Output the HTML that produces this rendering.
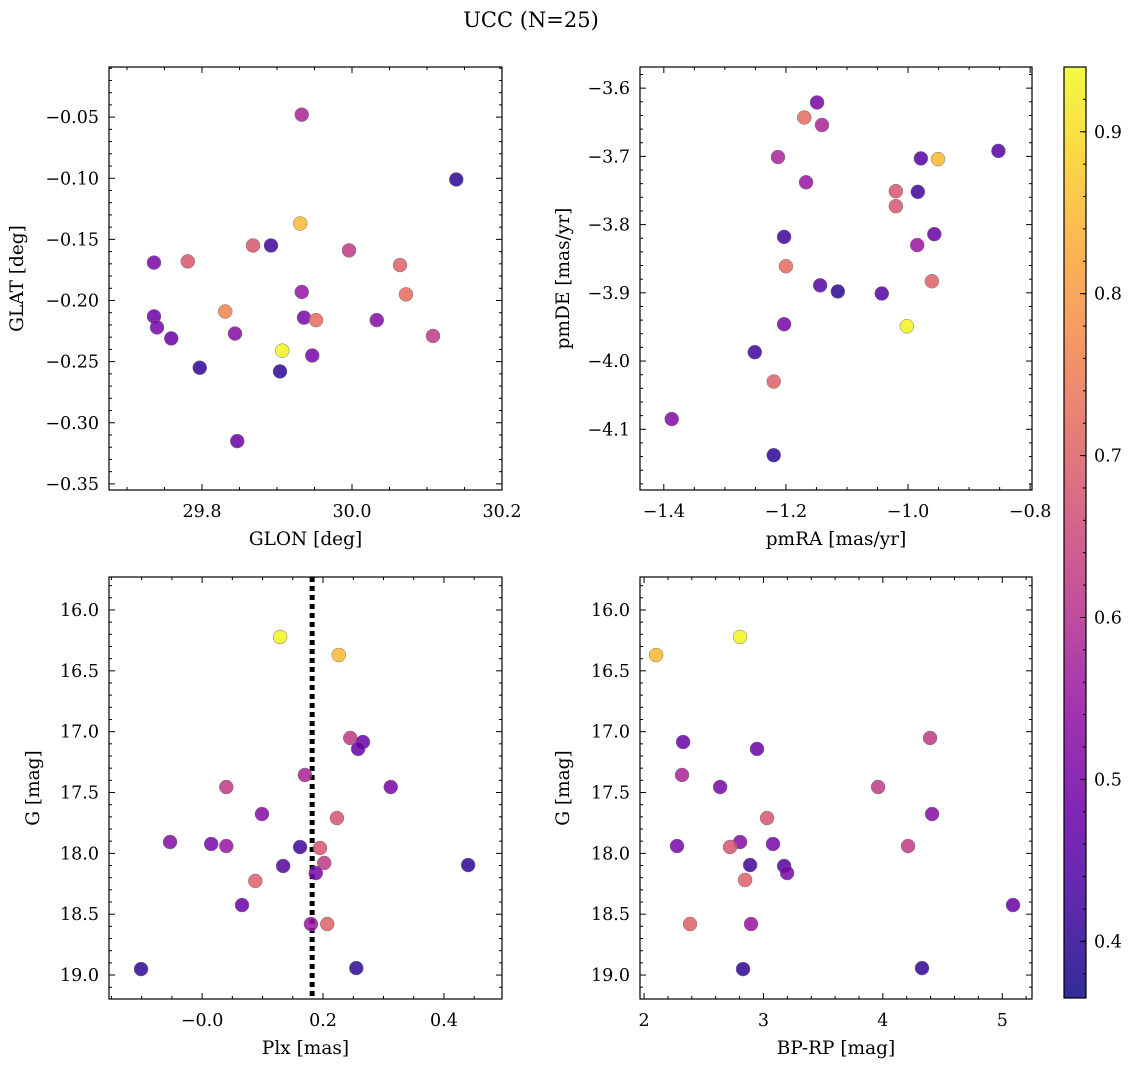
<!DOCTYPE html>
<html><head><meta charset="utf-8"><style>
html,body{margin:0;padding:0;background:#fff;}
svg{display:block;font-family:"DejaVu Serif","Liberation Serif",serif;}
</style></head><body>
<svg id="fig" width="1136" height="1067" viewBox="0 0 1136 1067">
<text x="531" y="27" font-size="21" text-anchor="middle">UCC (N=25)</text>
</svg>
<script>
// Panel 1 data: GLON vs GLAT
const glon1=[29.933,30.139,29.931,29.868,29.892,29.996,29.736,29.781,30.064,29.933,30.072,29.831,29.736,29.936,29.952,30.033,29.740,29.844,30.108,29.759,29.907,29.947,29.797,29.904,29.847];
const glat1=[-0.048,-0.101,-0.137,-0.155,-0.155,-0.159,-0.169,-0.168,-0.171,-0.193,-0.195,-0.209,-0.213,-0.214,-0.216,-0.216,-0.222,-0.227,-0.229,-0.231,-0.241,-0.245,-0.255,-0.258,-0.315];
const prob1=[0.58,0.40,0.85,0.68,0.42,0.62,0.50,0.68,0.70,0.55,0.72,0.76,0.48,0.50,0.72,0.52,0.50,0.52,0.62,0.48,0.93,0.50,0.40,0.40,0.48];
// Panel 2 data: pmRA vs pmDE
const pmra2=[-1.149,-1.170,-1.141,-1.213,-0.979,-0.951,-0.852,-1.167,-0.984,-1.020,-1.020,-0.957,-1.203,-0.985,-1.200,-0.961,-1.144,-1.115,-1.043,-1.002,-1.203,-1.251,-1.220,-1.387,-1.220];
const pmde2=[-3.621,-3.643,-3.654,-3.701,-3.703,-3.704,-3.692,-3.738,-3.752,-3.751,-3.773,-3.814,-3.818,-3.830,-3.861,-3.883,-3.889,-3.898,-3.901,-3.949,-3.946,-3.987,-4.030,-4.085,-4.138];
const prob2=[0.50,0.72,0.58,0.58,0.45,0.85,0.45,0.55,0.42,0.68,0.68,0.48,0.42,0.55,0.72,0.70,0.45,0.40,0.45,0.93,0.50,0.42,0.70,0.52,0.40];
// Panel 3 data: Plx vs G
const plx3=[0.129,0.226,0.245,0.266,0.258,0.170,0.040,0.312,0.099,0.223,-0.053,0.015,0.040,0.162,0.195,0.202,0.134,0.440,0.188,0.088,0.066,0.180,0.207,-0.101,0.255];
const g3=[16.222,16.370,17.052,17.085,17.142,17.356,17.455,17.455,17.677,17.710,17.907,17.923,17.940,17.948,17.956,18.079,18.104,18.096,18.162,18.227,18.425,18.581,18.581,18.951,18.943];
const prob3=[0.93,0.85,0.62,0.48,0.48,0.58,0.62,0.50,0.52,0.68,0.52,0.50,0.55,0.42,0.68,0.62,0.45,0.40,0.50,0.70,0.48,0.55,0.70,0.40,0.40];
const plxLine=[0.182];
// Panel 4 data: BP-RP vs G
const bprp4=[2.804,2.101,4.395,2.327,2.946,2.318,3.960,2.637,4.412,3.030,2.804,3.080,2.276,2.720,4.211,2.888,3.173,3.198,2.846,5.090,2.385,2.896,2.829,4.328];
const g4=[16.222,16.370,17.052,17.085,17.142,17.356,17.455,17.455,17.677,17.710,17.907,17.923,17.940,17.948,17.940,18.096,18.104,18.162,18.219,18.425,18.581,18.581,18.951,18.943];
const prob4=[0.93,0.85,0.62,0.48,0.48,0.58,0.62,0.50,0.52,0.68,0.52,0.50,0.50,0.68,0.62,0.42,0.45,0.50,0.70,0.48,0.70,0.55,0.40,0.40];
const cbTicks=[0.4,0.5,0.6,0.7,0.8,0.9];
const CMIN=0.365,CMAX=0.94;

const NS="http://www.w3.org/2000/svg";
const svg=document.getElementById('fig');
function mk(tag,attrs,parent){const e=document.createElementNS(NS,tag);for(const k in attrs)e.setAttribute(k,attrs[k]);(parent||svg).appendChild(e);return e;}
const stops=[[13,8,135],[65,4,157],[106,0,168],[143,13,164],[177,42,144],[204,71,120],[225,100,98],[242,132,75],[252,166,54],[252,206,37],[240,249,33]];
function plasma(t){t=Math.max(0,Math.min(1,t));const f=t*10,i=Math.min(9,Math.floor(f)),u=f-i;const a=stops[i],b=stops[i+1];return 'rgb('+a.map((v,k)=>Math.round(v+(b[k]-v)*u)).join(',')+')';}
function cmap(c){return plasma((c-CMIN)/(CMAX-CMIN));}
function fmt(v,d){let s=v.toFixed(d);if(s.startsWith('-'))s='\u2212'+s.slice(1);return s;}

function panel(cfg){
  const {x0,x1,y0,y1,xmin,xmax,ymin,ymax,inv}=cfg;
  const sx=v=>x0+(v-xmin)/(xmax-xmin)*(x1-x0);
  const sy=v=>inv? y0+(v-ymin)/(ymax-ymin)*(y1-y0) : y1-(v-ymin)/(ymax-ymin)*(y1-y0);
  const g=mk('g',{});
  
  
  const eps=1e-9;
  for(let v=Math.ceil(xmin/cfg.xminor-eps)*cfg.xminor;v<=xmax+eps;v+=cfg.xminor){
    const x=sx(v);const maj=Math.abs(v/cfg.xmajor-Math.round(v/cfg.xmajor))<1e-6;const L=maj?6:3;
    mk('line',{x1:x,x2:x,y1:y1,y2:y1-L,stroke:'#000','stroke-width':1},g);
    mk('line',{x1:x,x2:x,y1:y0,y2:y0+L,stroke:'#000','stroke-width':1},g);
    if(maj){const t=mk('text',{x:x,y:y1+27,'font-size':17.5,'text-anchor':'middle'},g);t.textContent=fmt(v,cfg.xd);
      }
  }
  for(let v=Math.ceil(ymin/cfg.yminor-eps)*cfg.yminor;v<=ymax+eps;v+=cfg.yminor){
    const y=sy(v);const maj=Math.abs(v/cfg.ymajor-Math.round(v/cfg.ymajor))<1e-6;const L=maj?6:3;
    mk('line',{x1:x0,x2:x0+L,y1:y,y2:y,stroke:'#000','stroke-width':1},g);
    mk('line',{x1:x1,x2:x1-L,y1:y,y2:y,stroke:'#000','stroke-width':1},g);
    if(maj){const t=mk('text',{x:x0-10,y:y+6,'font-size':17.5,'text-anchor':'end'},g);t.textContent=fmt(v,cfg.yd);
      }
  }
  if(cfg.vline!==undefined){const l=mk('line',{x1:sx(cfg.vline),x2:sx(cfg.vline),y1:y0,y2:y1,stroke:'#000','stroke-width':5,'stroke-dasharray':'5,4'},g);
    }
  for(let i=0;i<cfg.xs.length;i++){
    const c=mk('circle',{cx:sx(cfg.xs[i]),cy:sy(cfg.ys[i]),r:7,fill:cmap(cfg.cs[i]),'fill-opacity':0.85,stroke:'#777','stroke-width':0.5},g);
    
    
  }
  const fr=mk('rect',{x:x0,y:y0,width:x1-x0,height:y1-y0,fill:'none',stroke:'#000','stroke-width':1.2},g);
  
  const xl=mk('text',{x:(x0+x1)/2,y:y1+55,'font-size':18.5,'text-anchor':'middle'},g);xl.textContent=cfg.xlabel;
  
  const yc=(y0+y1)/2,yx=cfg.ylx;
  const yl=mk('text',{x:yx,y:yc,'font-size':18.5,'text-anchor':'middle',transform:`rotate(-90 ${yx} ${yc})`},g);yl.textContent=cfg.ylabel;
  
}
panel({name:'glon-glat-panel',x0:109,x1:502,y0:67,y1:490,xmin:29.676,xmax:30.2,ymin:-0.355,ymax:-0.009,xmajor:0.2,xminor:0.05,ymajor:0.05,yminor:0.01,xd:1,yd:2,xs:glon1,ys:glat1,cs:prob1,xlabel:'GLON [deg]',ylabel:'GLAT [deg]',ylx:23});
panel({name:'pm-panel',x0:640,x1:1032,y0:67,y1:490,xmin:-1.439,xmax:-0.797,ymin:-4.189,ymax:-3.569,xmajor:0.2,xminor:0.05,ymajor:0.1,yminor:0.02,xd:1,yd:1,xs:pmra2,ys:pmde2,cs:prob2,xlabel:'pmRA [mas/yr]',ylabel:'pmDE [mas/yr]',ylx:569});
panel({name:'plx-g-panel',x0:109,x1:502,y0:577,y1:999,xmin:-0.154,xmax:0.496,ymin:15.729,ymax:19.197,inv:true,xmajor:0.2,xminor:0.05,ymajor:0.5,yminor:0.1,xd:1,yd:1,xs:plx3,ys:g3,cs:prob3,vline:plxLine[0],xlabel:'Plx [mas]',ylabel:'G [mag]',ylx:39});
panel({name:'cmd-panel',x0:640,x1:1032,y0:577,y1:999,xmin:1.966,xmax:5.249,ymin:15.729,ymax:19.197,inv:true,xmajor:1,xminor:0.2,ymajor:0.5,yminor:0.1,xd:0,yd:1,xs:bprp4,ys:g4,cs:prob4,xlabel:'BP-RP [mag]',ylabel:'G [mag]',ylx:569});

const cb=mk('g',{});


const defs=mk('defs',{},cb);
const lg=mk('linearGradient',{id:'cbg',x1:0,y1:1,x2:0,y2:0},defs);
for(let i=0;i<=20;i++){mk('stop',{offset:i/20,'stop-color':plasma(i/20),'stop-opacity':0.85},lg);}
const CBX=1064,CBW=22,CBT=67,CBB=998;
mk('rect',{x:CBX,y:CBT,width:CBW,height:CBB-CBT,fill:'url(#cbg)'},cb);
const csy=v=>CBB-(v-CMIN)/(CMAX-CMIN)*(CBB-CBT);
for(let v=0.38;v<=CMAX;v+=0.02){const y=csy(v);mk('line',{x1:CBX+CBW,x2:CBX+CBW-3,y1:y,y2:y,stroke:'#000'},cb);}
cbTicks.forEach(v=>{const y=csy(v);mk('line',{x1:CBX+CBW,x2:CBX+CBW-6,y1:y,y2:y,stroke:'#000'},cb);
  const t=mk('text',{x:CBX+CBW+8,y:y+6,'font-size':17.5},cb);t.textContent=v.toFixed(1);
  });
mk('rect',{x:CBX,y:CBT,width:CBW,height:CBB-CBT,fill:'none',stroke:'#000','stroke-width':1.2},cb);
</script>
</body></html>
